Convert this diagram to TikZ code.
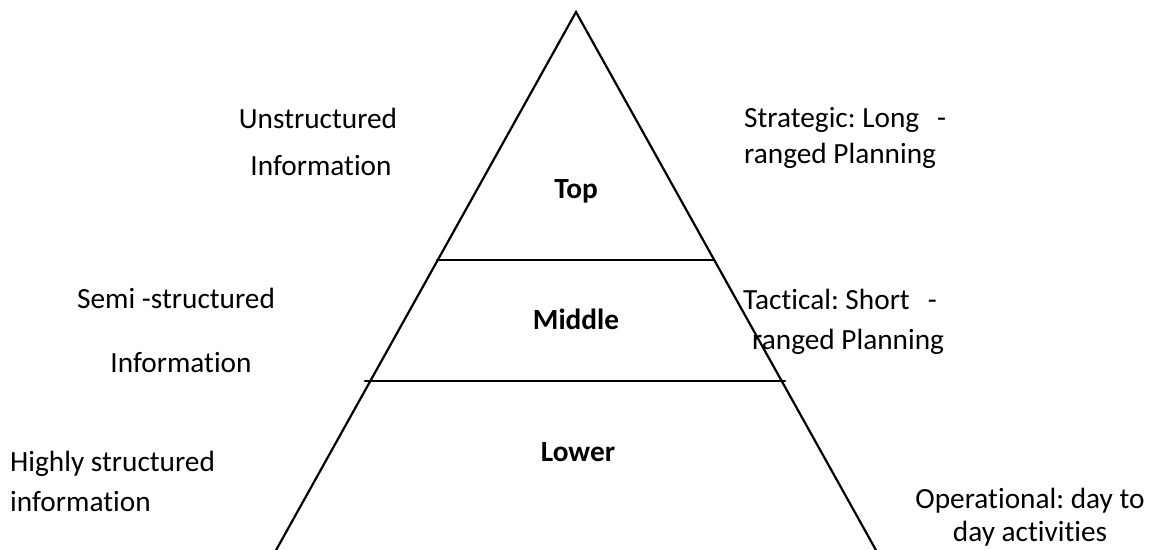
\documentclass[tikz,border=0pt]{standalone}
\usepackage{fontspec}
\setmainfont[Ligatures={NoCommon,NoDiscretionary,NoRare}]{Carlito}
\frenchspacing
\begin{document}
\begin{tikzpicture}[x=1pt,y=-1pt,
  edge/.style={line width=2.2pt, line cap=round},
  lbl/.style={inner sep=0pt, font=\fontsize{29.3}{34}\selectfont},
  lvl/.style={inner sep=0pt, font=\fontsize{29.3}{34}\selectfont\bfseries, anchor=base}]
\useasboundingbox (0,0) rectangle (1155,549);
% triangle
\coordinate (apex) at (576,12);
\coordinate (bl) at (275,552);
\coordinate (br) at (877,552);
\draw[edge] (bl) -- (apex) -- (br);
\coordinate (l1a) at (437,260);
\coordinate (l1b) at (714,260);
\coordinate (l2a) at (365,381);
\coordinate (l2b) at (785,381);
\draw[edge] (l1a) -- (l1b);
\draw[edge] (l2a) -- (l2b);
% level names
\node[lvl] (top) at (576,198) {Top};
\node[lvl] (mid) at (576,329) {Middle};
\node[lvl] (low) at (578,461) {Lower};
% left labels
\node[lbl, anchor=base] (u1) at (318,128) {Unstructured};
\node[lbl, anchor=base] (u2) at (321,175) {Information};
\node[lbl, anchor=base west] (s1) at (77,308) {Semi -structured};
\node[lbl, anchor=base] (s2) at (181,372) {Information};
\node[lbl, anchor=base west] (h1) at (10,471) {Highly structured};
\node[lbl, anchor=base west] (h2) at (10,511) {information};
% right labels
\node[lbl, anchor=base west] (r1) at (744,127) {Strategic: Long\hspace{18pt}-};
\node[lbl, anchor=base west] (r2) at (744,163) {ranged Planning};
\node[lbl, anchor=base west] (t1) at (743,309) {Tactical: Short\hspace{18pt}-};
\node[lbl, anchor=base west] (t2) at (752,349) {ranged Planning};
\node[lbl, anchor=base] (o1) at (1030,508) {Operational: day to};
\node[lbl, anchor=base] (o2) at (1030,541) {day activities};
\end{tikzpicture}
\end{document}
